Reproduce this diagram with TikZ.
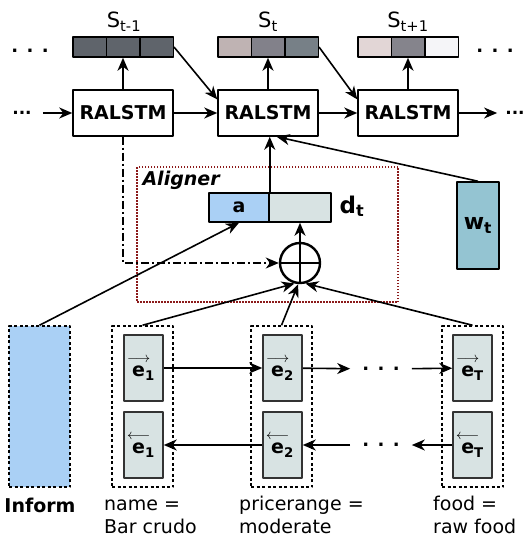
\documentclass[tikz,border=0pt]{standalone}
\usepackage{fontspec}
\setmainfont{DejaVu Sans}
\usepackage{amsmath}
\usetikzlibrary{arrows.meta}
\definecolor{stateA}{HTML}{5F646B}
\definecolor{stateB1}{HTML}{BFB3B3}
\definecolor{stateB2}{HTML}{82818A}
\definecolor{stateB3}{HTML}{778087}
\definecolor{stateC1}{HTML}{E2D6D6}
\definecolor{stateC2}{HTML}{85848C}
\definecolor{stateC3}{HTML}{F5F5F8}
\definecolor{encfill}{HTML}{D8E3E3}
\definecolor{afill}{HTML}{AAD0F5}
\definecolor{wfill}{HTML}{94C4D2}
\definecolor{alignred}{HTML}{8B1A1A}
\tikzset{>={Stealth[length=13pt,width=11pt,inset=4pt]}}
\newcommand{\fsz}[1]{\fontsize{#1}{#1}\selectfont}
\newcommand{\fwvec}[1]{$\overset{\makebox[0pt]{$\scriptstyle\longrightarrow$}}{\textbf{e}}_{\textbf{#1}}$}
\newcommand{\bwvec}[1]{$\overset{\makebox[0pt]{$\scriptstyle\longleftarrow$}}{\textbf{e}}_{\textbf{#1}}$}

\begin{document}
\begin{tikzpicture}[x=1pt,y=-1pt,line join=round,
    ralstm/.style={draw,line width=1.5pt,minimum width=100pt,minimum height=46pt,inner sep=0pt,font=\fsz{19}\bfseries},
    cell/.style={draw,line width=1.5pt,minimum width=33.5pt,minimum height=20pt,inner sep=0pt},
    enc/.style={draw=black!80,line width=1.5pt,fill=encfill,minimum width=39pt,minimum height=66pt,inner sep=0pt,font=\fsz{19}\bfseries},
    slotbox/.style={draw,line width=1.5pt,dash pattern=on 3pt off 2.5pt,minimum width=61pt,minimum height=161pt,inner sep=0pt},
    ellip/.style={font=\fsz{18}\bfseries,inner ysep=0pt},
    conn/.style={->,line width=1.6pt}]
    \useasboundingbox (0,0) rectangle (524,537);
    \node[cell,fill=stateA] (sa1) at (89.5,47) {};
    \node[cell,fill=stateA] (sa2) at (123,47) {};
    \node[cell,fill=stateA] (sa3) at (156.5,47) {};
    \node[cell,fill=stateB1] (sb1) at (234.5,47) {};
    \node[cell,fill=stateB2] (sb2) at (268,47) {};
    \node[cell,fill=stateB3] (sb3) at (301.5,47) {};
    \node[cell,fill=stateC1] (sc1) at (374.5,47) {};
    \node[cell,fill=stateC2] (sc2) at (408,47) {};
    \node[cell,fill=stateC3] (sc3) at (441.5,47) {};
    \node[anchor=base,font=\fsz{21}] (sal) at (124,28) {$\text{S}_{\text{t-1}}$};
    \node[anchor=base,font=\fsz{21}] (sbl) at (268,28) {$\text{S}_{\text{t}}$};
    \node[anchor=base,font=\fsz{21}] (scl) at (408,28) {$\text{S}_{\text{t+1}}$};
    \node[ellip] (dtl) at (30,51) {. . .};
    \node[ellip] (dtr) at (495,51) {. . .};

    \node[ralstm] (ral1) at (123,113) {RALSTM};
    \node[ralstm] (ral2) at (268,113) {RALSTM};
    \node[ralstm] (ral3) at (408,113) {RALSTM};
    \node[ellip,font=\fsz{17}\bfseries,inner xsep=11pt] (drl) at (22,113) {...};
    \node[ellip,font=\fsz{17}\bfseries,inner xsep=8pt] (drr) at (515,113) {...};
    \draw[conn] (drl) -- (ral1);
    \draw[conn] (ral1) -- (ral2);
    \draw[conn] (ral2) -- (ral3);
    \draw[conn] (ral3) -- (drr);
    \draw[conn] (ral1) -- (sa2);
    \draw[conn] (ral2) -- (sb2);
    \draw[conn] (ral3) -- (sc2);
    \draw[conn] (sa3.east) -- (ral2.165);
    \draw[conn] (sb3.east) -- (ral3.165);

    \node[draw=alignred,line width=1.5pt,dash pattern=on 1.5pt off 1.5pt,minimum width=261pt,minimum height=135pt] (aligner) at (267.5,234.5) {};
    \node[anchor=west,font=\fsz{19}\bfseries\itshape] (alignlbl) at (139,180) {Aligner};
    \node[cell,fill=afill,minimum width=60pt,minimum height=29pt,font=\fsz{19}\bfseries] (da) at (239,207.5) {a};
    \node[cell,fill=encfill,minimum width=62pt,minimum height=29pt] (dd) at (300,207.5) {};
    \node[anchor=base west,font=\fsz{23}\bfseries] (dlbl) at (336,213) {$\textbf{d}_{\textbf{t}}$};
    \node[circle,draw,line width=2.4pt,minimum size=40pt,inner sep=0pt] (plus) at (300,263) {};
    \draw[line width=2.2pt] (plus.north) -- (plus.south) (plus.west) -- (plus.east);
    \draw[conn,dash pattern=on 8pt off 3pt on 2pt off 3pt] (ral1.south) |- (plus.west);
    \draw[conn] (da.north east) -- (da.north east |- ral2.south);
    \draw[conn] (plus) -- (dd);

    \node[draw,line width=1.5pt,fill=wfill,minimum width=42pt,minimum height=87pt,font=\fsz{22}\bfseries] (wt) at (478,225.5) {$\textbf{w}_{\textbf{t}}$};
    \draw[conn] (wt.north) -- (ral2.290);

    \node[draw,line width=1.5pt,dash pattern=on 3pt off 2.5pt,fill=afill,minimum width=61pt,minimum height=161pt] (inform) at (39.5,406.5) {};
    \node[anchor=base,font=\fsz{19}\bfseries] (informlbl) at (40,512) {Inform};
    \draw[conn] (inform.north) -- (da.south);

    \node[slotbox] (g1) at (142.5,406.5) {};
    \node[slotbox] (g2) at (281.5,406.5) {};
    \node[slotbox] (g3) at (472.5,406.5) {};
    \node[enc] (f1) at (143.5,368) {\fwvec{1}};
    \node[enc] (b1) at (143.5,445) {\bwvec{1}};
    \node[enc] (f2) at (282.5,368) {\fwvec{2}};
    \node[enc] (b2) at (282.5,445) {\bwvec{2}};
    \node[enc] (f3) at (472.5,368) {\fwvec{T}};
    \node[enc] (b3) at (472.5,445) {\bwvec{T}};
    \node[ellip,inner xsep=12pt] (dfw) at (381,369) {. . .};
    \node[ellip,inner xsep=12pt] (dbw) at (381,445) {. . .};
    \draw[conn] (f1) -- (f2);
    \draw[conn] (f2) -- (dfw);
    \draw[conn] (dfw) -- (f3);
    \draw[conn] (b3) -- (dbw);
    \draw[conn] (dbw) -- (b2);
    \draw[conn] (b2) -- (b1);
    \draw[conn] (g1.north) -- (plus.255);
    \draw[conn] (g2.north) -- (plus.265);
    \draw[conn] (g3.north) -- (plus.285);

    \node[anchor=base west,align=left,inner sep=0pt,font=\fontsize{19}{23}\selectfont] (slot1) at (104,533) {name =\\Bar crudo};
    \node[anchor=base west,align=left,inner sep=0pt,font=\fontsize{19}{23}\selectfont] (slot2) at (239,533) {pricerange =\\moderate};
    \node[anchor=base west,align=left,inner sep=0pt,font=\fontsize{19}{23}\selectfont] (slot3) at (433,533) {food =\\raw food};
\end{tikzpicture}
\end{document}
